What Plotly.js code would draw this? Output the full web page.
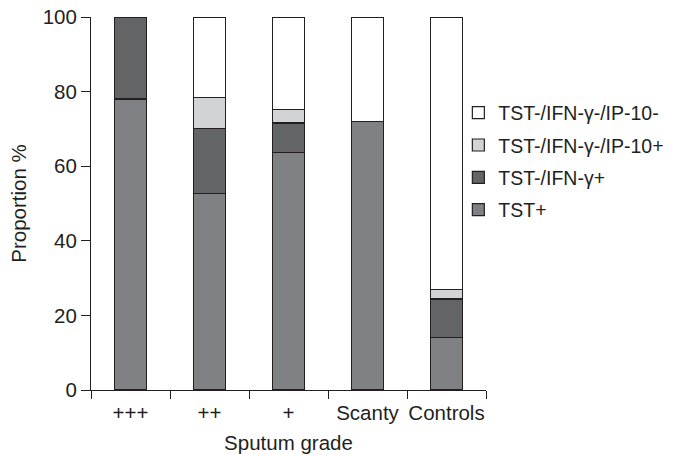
<!DOCTYPE html>
<html>
<head>
<meta charset="utf-8">
<script src="https://cdn.plot.ly/plotly-3.0.1.min.js"></script>
<style>html,body{margin:0;padding:0;background:#fff;}#chart{width:681px;height:455px;}</style>
</head>
<body>
<div id="chart"></div>
<script>
var categories = ['+++', '++', '+', 'Scanty', 'Controls'];
var seriesNames = ['TST+', 'TST-/IFN-\u03b3+', 'TST-/IFN-\u03b3-/IP-10+', 'TST-/IFN-\u03b3-/IP-10-'];
var tstPos = [78, 52.6, 63.6, 72, 14];
var ifnPos = [22, 17.6, 8, 0, 10.4];
var ip10Pos = [0, 8.3, 3.7, 0, 2.6];
var allNeg = [0, 21.5, 24.7, 28, 73];
var yTicks = [0, 20, 40, 60, 80, 100];

var colors = ['#808184', '#636466', '#d1d3d4', '#ffffff'];
var values = [tstPos, ifnPos, ip10Pos, allNeg];
var ink = '#231f20';

var traces = values.map(function (v, i) {
  return {
    type: 'bar',
    name: seriesNames[i],
    x: categories,
    y: v,
    legendgroup: 'g' + (values.length - i),
    legendrank: values.length - i,
    marker: { color: colors[i], line: { color: ink, width: 1.2 } },
    hoverinfo: 'none'
  };
});

var layout = {
  width: 681,
  height: 455,
  margin: { l: 91, r: 183, t: 17, b: 65 },
  paper_bgcolor: '#ffffff',
  plot_bgcolor: '#ffffff',
  font: { family: 'Liberation Sans, Arial, sans-serif', size: 20, color: ink },
  barmode: 'stack',
  bargap: 0.595,
  showlegend: true,
  legend: {
    x: 0.93, xanchor: 'left',
    y: 0.795, yanchor: 'top',
    traceorder: 'grouped',
    tracegroupgap: 4,
    font: { size: 19.5, color: ink },
    bgcolor: 'rgba(0,0,0,0)'
  },
  xaxis: {
    type: 'category',
    tickson: 'boundaries',
    tickangle: 0,
    ticks: 'outside',
    ticklen: 8,
    ticklabelstandoff: 4,
    tickcolor: ink,
    showline: true,
    linecolor: ink,
    linewidth: 1,
    showgrid: false,
    zeroline: false,
    tickfont: { size: 20.5 },
    title: { text: 'Sputum grade', font: { size: 20.5 }, standoff: 13 }
  },
  yaxis: {
    range: [0, 100],
    tickvals: yTicks,
    ticktext: yTicks.map(String),
    ticks: 'outside',
    ticklen: 9,
    tickcolor: ink,
    showline: true,
    linecolor: ink,
    linewidth: 1,
    showgrid: false,
    zeroline: false,
    tickfont: { size: 20.5 },
    title: { text: 'Proportion %', font: { size: 20.5 }, standoff: 10 }
  }
};

Plotly.newPlot('chart', traces, layout, { displayModeBar: false, staticPlot: true });
</script>
</body>
</html>
